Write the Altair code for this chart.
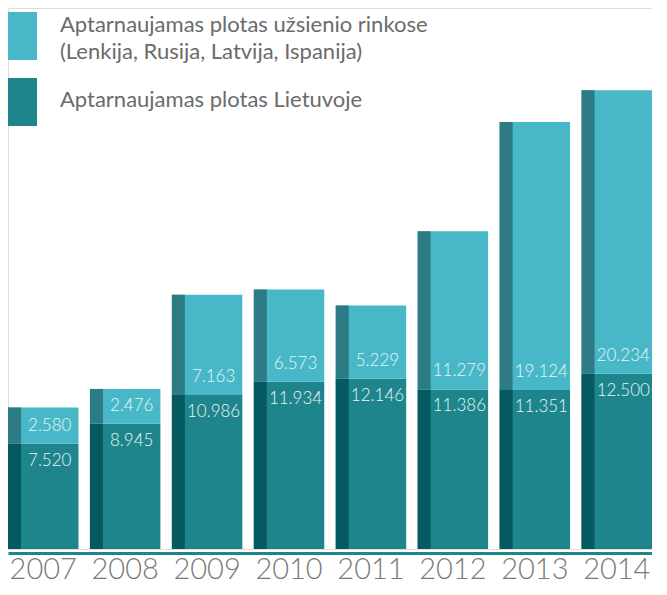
import altair as alt
import pandas as pd

# ---- data (thousand m², Lithuanian thousands separator in labels) ----
years = ["2007", "2008", "2009", "2010", "2011", "2012", "2013", "2014"]
lithuania = [7520, 8945, 10986, 11934, 12146, 11386, 11351, 12500]
abroad = [2580, 2476, 7163, 6573, 5229, 11279, 19124, 20234]

legend_abroad = ["Aptarnaujamas plotas užsienio rinkose", "(Lenkija, Rusija, Latvija, Ispanija)"]
legend_lt = "Aptarnaujamas plotas Lietuvoje"

df = pd.DataFrame({"year": years, "lt": lithuania, "ab": abroad})
df["total"] = df["lt"] + df["ab"]
fmt = lambda v: f"{v:,}".replace(",", ".")
df["lt_label"] = df["lt"].map(fmt)
df["ab_label"] = df["ab"].map(fmt)

# ---- styling ----
C_LT = "#1e858c"
C_LT_SIDE = "#045a60"
C_AB = "#48b8c8"
C_AB_SIDE = "#2d7b85"
TXT = "#6b6b6b"
FONT = "Lato"

W, H = 644, 541
PAD_IN = 0.14
step = W / (len(years) - PAD_IN)
bw = step * (1 - PAD_IN)
STRIP = 13
strip_off = -(bw / 2 - STRIP / 2)

x = alt.X(
    "year:N",
    sort=years,
    scale=alt.Scale(paddingInner=PAD_IN, paddingOuter=0),
    axis=alt.Axis(
        title=None, ticks=False, domainColor=C_LT, domainWidth=3, offset=4,
        labelFontSize=29, labelColor="#7a7a7a", labelFont=FONT, labelFontWeight=300,
        labelPadding=2, labelAngle=0,
    ),
)
ys = alt.Scale(domain=[0, 38600], nice=False, zero=True)

base = alt.Chart(df)

bot = base.mark_bar(color=C_LT).encode(x=x, y=alt.Y("lt:Q", scale=ys, axis=None))
bot_side = base.mark_bar(color=C_LT_SIDE, width=STRIP, xOffset=strip_off).encode(
    x=x, y=alt.Y("lt:Q", scale=ys, axis=None))
top = base.mark_bar(color=C_AB).encode(
    x=x, y=alt.Y("lt:Q", scale=ys, axis=None), y2="total:Q")
top_side = base.mark_bar(color=C_AB_SIDE, width=STRIP, xOffset=strip_off).encode(
    x=x, y=alt.Y("lt:Q", scale=ys, axis=None), y2="total:Q")

lab_lt = base.mark_text(color="#e6f5f6", fontSize=17, font=FONT, fontWeight=300, dy=17,
                        xOffset=STRIP / 2, baseline="middle").encode(
    x=x, y=alt.Y("lt:Q", scale=ys, axis=None), text="lt_label:N")
lab_ab = base.mark_text(color="#e6f5f6", fontSize=17, font=FONT, fontWeight=300, dy=-18,
                        xOffset=STRIP / 2, baseline="middle").encode(
    x=x, y=alt.Y("lt:Q", scale=ys, axis=None), text="ab_label:N")

# ---- manual legend ----
leg = alt.Chart(pd.DataFrame({"k": [0]}))
leg_r1 = leg.mark_rect(color=C_AB).encode(
    x=alt.value(0), x2=alt.value(29), y=alt.value(4), y2=alt.value(52))
leg_r2 = leg.mark_rect(color=C_LT).encode(
    x=alt.value(0), x2=alt.value(29), y=alt.value(70), y2=alt.value(118))
tkw = dict(align="left", baseline="middle", fontSize=22, font=FONT, color=TXT)
leg_t1 = leg.mark_text(**tkw).encode(x=alt.value(52), y=alt.value(17), text=alt.value(legend_abroad[0]))
leg_t2 = leg.mark_text(**tkw).encode(x=alt.value(52), y=alt.value(44), text=alt.value(legend_abroad[1]))
leg_t3 = leg.mark_text(**tkw).encode(x=alt.value(52), y=alt.value(92), text=alt.value(legend_lt))

chart = alt.layer(
    bot, bot_side, top, top_side, lab_lt, lab_ab, leg_r1, leg_r2, leg_t1, leg_t2, leg_t3
).properties(
    width=W, height=H, padding={"left": 0, "top": 0, "right": 0, "bottom": 0}
).configure_view(stroke=None).configure(background="white")

chart.save("out.html", embed_options={"renderer": "svg", "actions": False})
